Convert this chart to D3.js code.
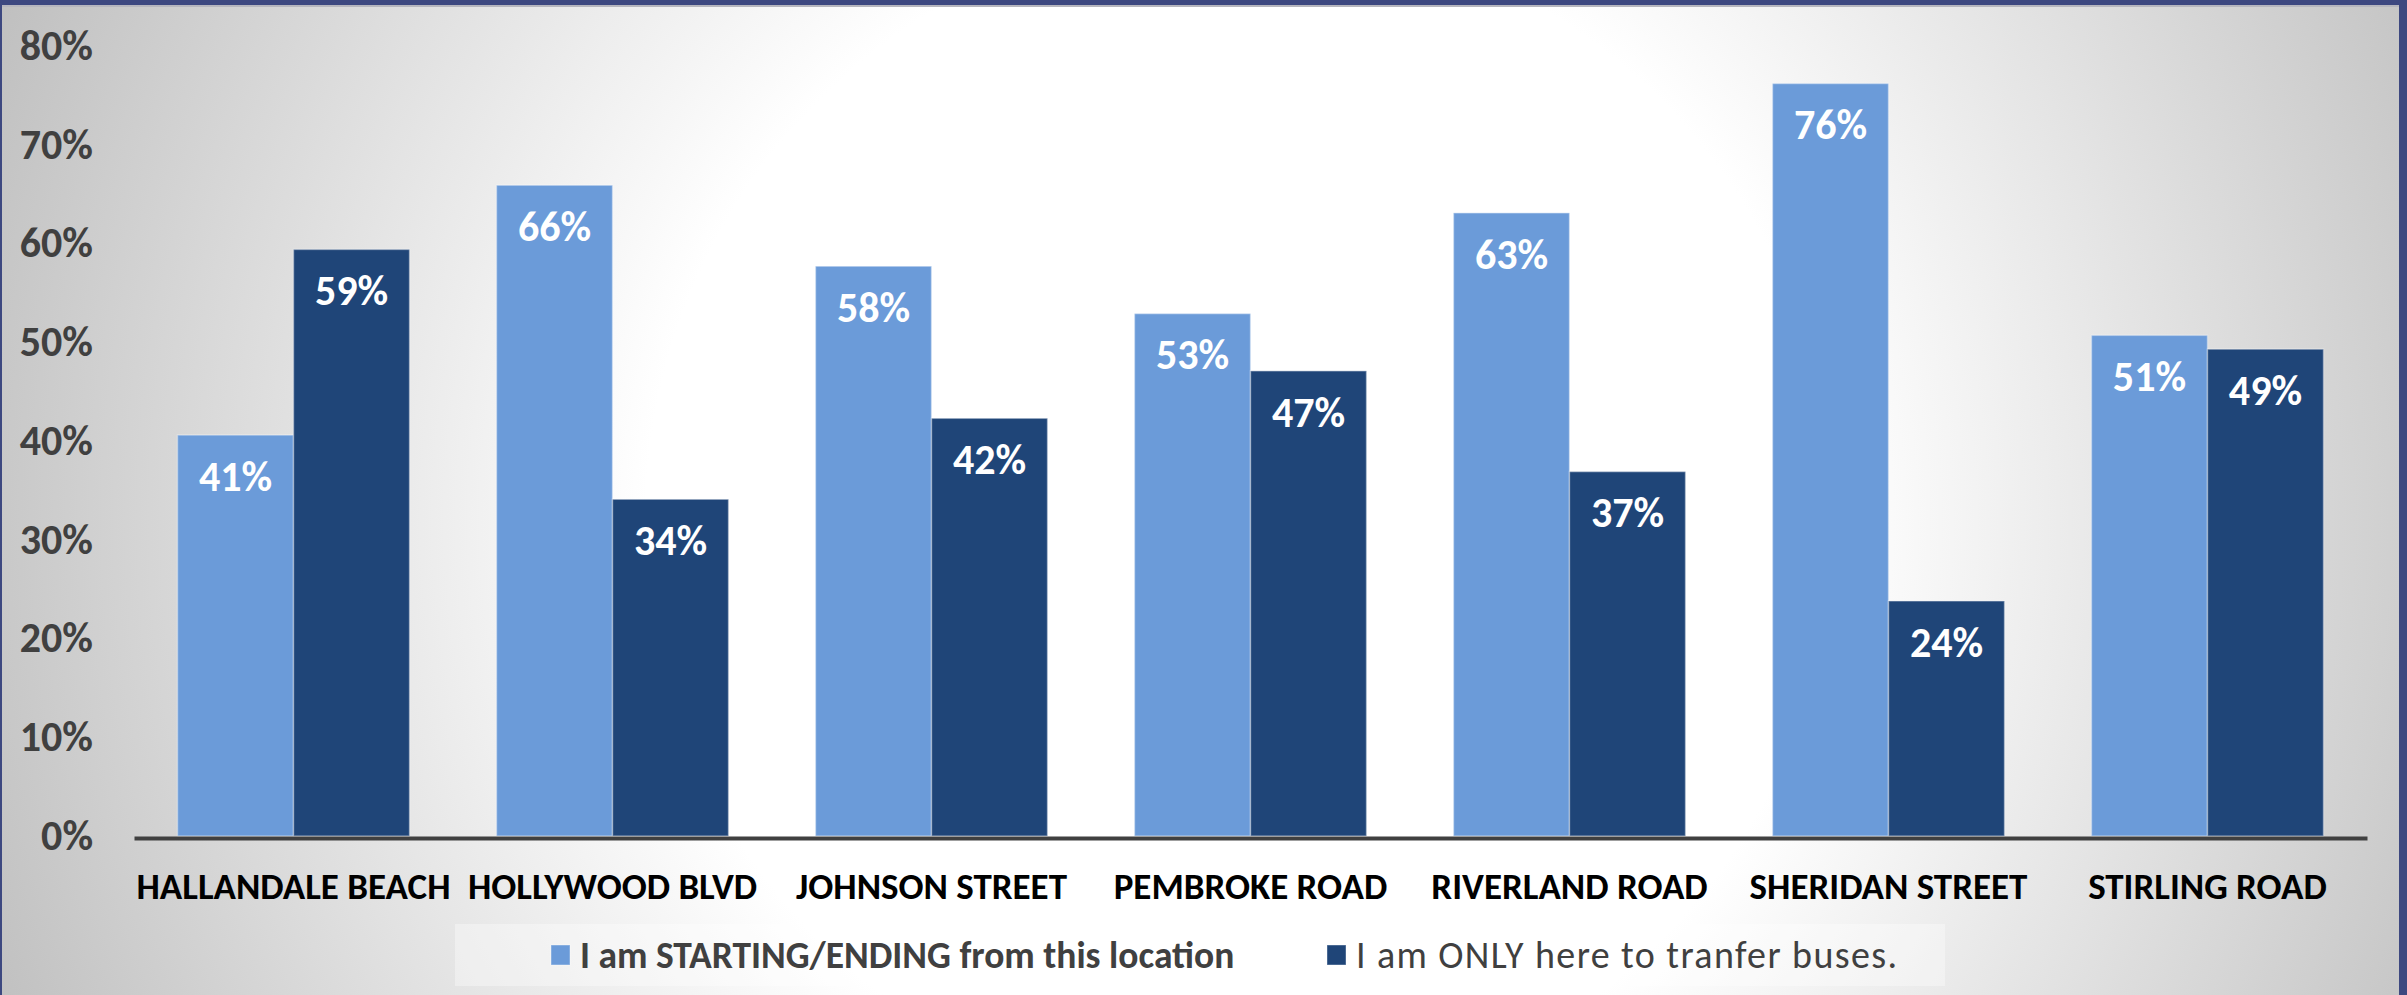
<!DOCTYPE html>
<html>
<head>
<meta charset="utf-8">
<script src="https://cdn.jsdelivr.net/npm/d3@7"></script>
<style>
    body { margin: 0; overflow: hidden; }
    svg { display: block; font-family: Carlito, Calibri, "Liberation Sans Narrow", "Arial Narrow", "DejaVu Sans Condensed", sans-serif; }
</style>
</head>
<body>
<div id="chart"></div>
<script>
// Data (shares of respondents per stop)
const categories = ["HALLANDALE BEACH", "HOLLYWOOD BLVD", "JOHNSON STREET", "PEMBROKE ROAD", "RIVERLAND ROAD", "SHERIDAN STREET", "STIRLING ROAD"];
const seriesNames = ["I am STARTING/ENDING from this location", "I am ONLY here to tranfer buses."];
const startingEnding = [0.406, 0.659, 0.577, 0.529, 0.631, 0.762, 0.507];
const transferOnly = [0.594, 0.341, 0.423, 0.471, 0.369, 0.238, 0.493];
const yTicks = [0, 0.1, 0.2, 0.3, 0.4, 0.5, 0.6, 0.7, 0.8];
const colors = ["#6b9bd9", "#1f4578"];

const W = 2407, H = 995;
const margin = { left: 134, right: 40, top: 46, bottom: 159 };

const svg = d3.select("#chart")
    .append("svg")
    .attr("width", W)
    .attr("height", H);

// Background: soft radial light in the middle, grey towards the edges
const defs = svg.append("defs");
const grad = defs.append("radialGradient")
    .attr("id", "bg")
    .attr("gradientUnits", "userSpaceOnUse")
    .attr("cx", 1240).attr("cy", 520).attr("r", 1350);
grad.append("stop").attr("offset", 0).attr("stop-color", "#ffffff");
grad.append("stop").attr("offset", 0.44).attr("stop-color", "#ffffff");
grad.append("stop").attr("offset", 1).attr("stop-color", "#bfbfbf");

svg.append("rect")
    .attr("width", W).attr("height", H)
    .attr("fill", "url(#bg)");

// Frame
svg.append("rect").attr("x", 0).attr("y", 5).attr("width", W).attr("height", 2).attr("fill", "#b6b6be");
svg.append("rect").attr("x", 0).attr("y", 0).attr("width", W).attr("height", 5).attr("fill", "#3d4880");
svg.append("rect").attr("x", 0).attr("y", 0).attr("width", 2).attr("height", H).attr("fill", "#3d4880");
svg.append("rect").attr("x", 2399).attr("y", 0).attr("width", 8).attr("height", H).attr("fill", "#3d4880");

// Scales
const x0 = d3.scaleBand()
    .domain(categories)
    .range([margin.left, 2367])
    .paddingInner(0.2727)
    .paddingOuter(0.1364);

const x1 = d3.scaleBand()
    .domain(seriesNames)
    .range([0, x0.bandwidth()]);

const y = d3.scaleLinear()
    .domain([0, 0.8])
    .range([836, margin.top]);

const rows = categories.map((c, i) => ({
    category: c,
    values: [
        { key: seriesNames[0], value: startingEnding[i], color: colors[0] },
        { key: seriesNames[1], value: transferOnly[i], color: colors[1] }
    ]
}));

// Y axis (labels only)
const yAxis = svg.append("g")
    .attr("transform", `translate(${margin.left},0)`)
    .call(d3.axisLeft(y).tickValues(yTicks).tickFormat(d3.format(".0%")).tickSize(0).tickPadding(41))
    .attr("font-family", null)
    .attr("font-size", null);
yAxis.select(".domain").remove();
yAxis.selectAll("text")
    .attr("fill", "#404040")
    .attr("font-size", 42)
    .attr("font-weight", "bold");

// Bars
const groups = svg.append("g")
    .selectAll("g")
    .data(rows)
    .enter()
    .append("g")
    .attr("transform", d => `translate(${x0(d.category)},0)`);

groups.selectAll("rect")
    .data(d => d.values)
    .enter()
    .append("rect")
    .attr("x", d => x1(d.key))
    .attr("y", d => y(d.value))
    .attr("width", x1.bandwidth())
    .attr("height", d => y(0) - y(d.value))
    .attr("fill", d => d.color)
    .attr("stroke", "rgba(255,255,255,0.35)")
    .attr("stroke-width", 1.5);

groups.selectAll("text")
    .data(d => d.values)
    .enter()
    .append("text")
    .attr("x", d => x1(d.key) + x1.bandwidth() / 2)
    .attr("y", d => y(d.value) + 41)
    .attr("dy", "0.35em")
    .attr("text-anchor", "middle")
    .attr("fill", "#ffffff")
    .attr("font-size", 42)
    .attr("font-weight", "bold")
    .text(d => Math.round(d.value * 100) + "%");

// X axis
const xAxis = svg.append("g")
    .attr("transform", "translate(0,838)")
    .call(d3.axisBottom(x0).tickSize(0).tickSizeOuter(0))
    .attr("font-family", null)
    .attr("font-size", null);
xAxis.select(".domain")
    .attr("stroke", "#404040")
    .attr("stroke-width", 4);
xAxis.selectAll("text")
    .attr("y", 48)
    .attr("dy", "0.35em")
    .attr("fill", "#000000")
    .attr("font-size", 37)
    .attr("font-weight", "bold");

// Legend
const legend = svg.append("g");
legend.append("rect")
    .attr("x", 455).attr("y", 924)
    .attr("width", 1490).attr("height", 62)
    .attr("fill", "#ffffff")
    .attr("fill-opacity", 0.35);

const legendX = [551, 1327];
const items = legend.selectAll("g")
    .data(seriesNames)
    .enter()
    .append("g")
    .attr("transform", (d, i) => `translate(${legendX[i]},955)`);

items.append("rect")
    .attr("x", 0).attr("y", -10)
    .attr("width", 19).attr("height", 20)
    .attr("fill", (d, i) => colors[i])
    .attr("stroke", "rgba(255,255,255,0.4)");

items.append("text")
    .attr("x", 29)
    .attr("dy", "0.35em")
    .attr("fill", "#404040")
    .attr("font-size", (d, i) => i === 0 ? 37.5 : 38)
    .attr("letter-spacing", (d, i) => i === 0 ? 0 : 1.4)
    .attr("font-weight", (d, i) => i === 0 ? "bold" : "normal")
    .text(d => d);
</script>
</body>
</html>
